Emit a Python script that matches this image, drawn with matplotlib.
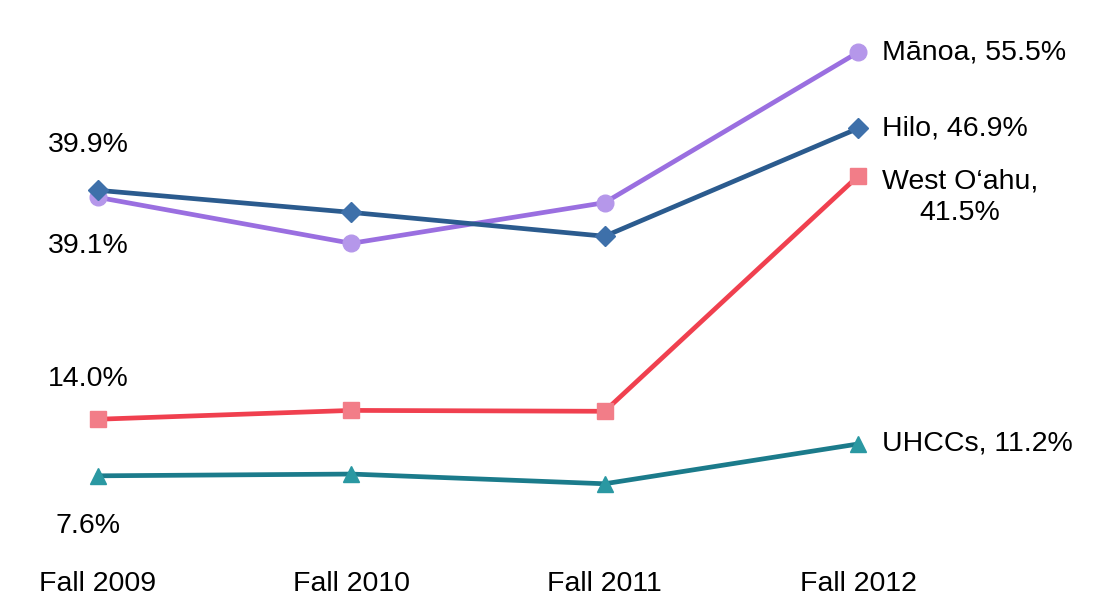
import matplotlib.pyplot as plt

plt.rcParams['font.family'] = ['Liberation Sans', 'DejaVu Sans']

# data
terms = ["Fall 2009", "Fall 2010", "Fall 2011", "Fall 2012"]
manoa = [39.1, 33.9, 38.5, 55.5]
hilo = [39.9, 37.4, 34.7, 46.9]
west_oahu = [14.0, 15.0, 14.9, 41.5]
uhccs = [7.6, 7.8, 6.7, 11.2]

series = [
    ("Mānoa", manoa, "#9a6fe0", "#b597ea", "o"),
    ("Hilo", hilo, "#2b5b8e", "#3e70aa", "D"),
    ("West O‘ahu", west_oahu, "#f0404f", "#f27d88", "s"),
    ("UHCCs", uhccs, "#1b7b8b", "#2a98a2", "^"),
]

fig = plt.figure(figsize=(10.94, 6.0), dpi=100)
# axes: x=0 at 98px, x=3 at 858px; y=0 at 543px, 8.84 px per %
ax = fig.add_axes([0, 55 / 600, 1, 535 / 600])
ppx = (858 - 98) / 3
ax.set_xlim(-98 / ppx, (1094 - 98) / ppx)
ax.set_ylim((543 - 545) / 8.84, (543 - 10) / 8.84)

x = list(range(len(terms)))
msizes = {"o": 12, "D": 10, "s": 11, "^": 12}
for name, vals, lc, mc, mk in series:
    ax.plot(x, vals, color=lc, lw=3.4, marker=mk, markersize=msizes[mk],
            markerfacecolor=mc, markeredgecolor=mc, zorder=3)

for s in ax.spines.values():
    s.set_visible(False)
ax.set_yticks([])
ax.set_xticks(x)
ax.set_xticklabels(terms, fontsize=20.5)
ax.tick_params(axis='x', length=0, pad=19)

fs = 20.5
# left-side value labels
ax.text(0 - 0.04, hilo[0] + 5.1, "39.9%", fontsize=fs, ha="center", va="center")
ax.text(0 - 0.04, manoa[0] - 5.5, "39.1%", fontsize=fs, ha="center", va="center")
ax.text(0 - 0.04, west_oahu[0] + 4.6, "14.0%", fontsize=fs, ha="center", va="center")
ax.text(0 - 0.04, uhccs[0] - 5.7, "7.6%", fontsize=fs, ha="center", va="center")

# right-side end labels
dx = 24 / ppx
ax.text(3 + dx, manoa[3], "Mānoa, 55.5%", fontsize=fs, ha="left", va="center")
ax.text(3 + dx, hilo[3], "Hilo, 46.9%", fontsize=fs, ha="left", va="center")
ax.text(3 + 102 / ppx, west_oahu[3] - 2.4, "West O‘ahu,\n41.5%", fontsize=fs,
        ha="center", va="center", linespacing=1.25)
ax.text(3 + dx, uhccs[3], "UHCCs, 11.2%", fontsize=fs, ha="left", va="center")

fig.savefig("out.png", dpi=100)
